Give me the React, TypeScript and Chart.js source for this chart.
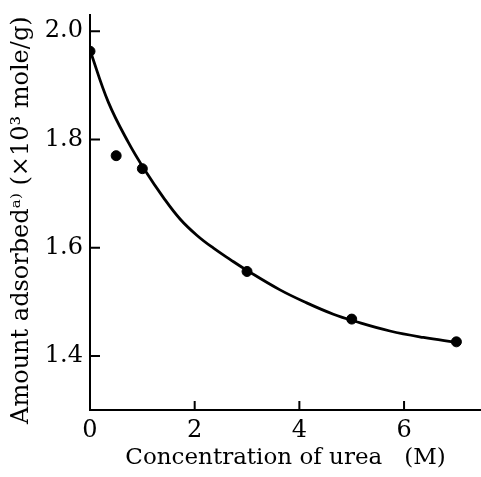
import React, { useEffect, useRef } from "react";
import { Chart, registerables } from "chart.js";

// Measured points: concentration of urea (M) vs amount adsorbed (×10^3 mole/g)
const POINT_X = [0, 0.5, 1.0, 3.0, 5.0, 7.0];
const POINT_Y = [1.963, 1.77, 1.746, 1.556, 1.468, 1.426];

// Fitted curve
const CURVE_X = [0, 0.35, 0.73, 1.05, 1.4, 1.72, 2.04, 2.36, 2.68, 3.0, 3.63, 4.14, 4.65, 5.06, 5.73, 6.37, 7.0];
const CURVE_Y = [1.965, 1.869, 1.795, 1.743, 1.693, 1.653, 1.623, 1.599, 1.578, 1.558, 1.522, 1.498, 1.477, 1.464, 1.446, 1.434, 1.425];

const X_TICKS = [0, 2, 4, 6];
const Y_TICKS = [1.4, 1.6, 1.8, 2.0];

const X_TITLE = "Concentration of urea   (M)";
const Y_TITLE = "Amount adsorbed\u1D43\u207E (\u00D710\u00B3 mole/g)  ";

const FONT = "'DejaVu Serif', 'Liberation Serif', serif";

const innerTicks = {
  id: "innerTicks",
  afterDraw(chart: any) {
    const ctx = chart.ctx;
    const area = chart.chartArea;
    const sx = chart.scales.x;
    const sy = chart.scales.y;
    ctx.save();
    ctx.strokeStyle = "#000";
    ctx.lineWidth = 2;
    ctx.beginPath();
    for (const v of Y_TICKS) {
      const y = sy.getPixelForValue(v);
      ctx.moveTo(area.left, y);
      ctx.lineTo(area.left + 10, y);
    }
    for (const v of X_TICKS) {
      const x = sx.getPixelForValue(v);
      ctx.moveTo(x, area.bottom);
      ctx.lineTo(x, area.bottom - 9);
    }
    ctx.stroke();
    ctx.restore();
  },
};

Chart.register(...registerables, innerTicks);

export default function App() {
  const ref = useRef<HTMLCanvasElement | null>(null);
  useEffect(() => {
    if (!ref.current) return;
    const chart = new Chart(ref.current, {
      type: "scatter",
      data: {
        datasets: [
          {
            data: CURVE_X.map((x, i) => ({ x, y: CURVE_Y[i] })),
            showLine: true,
            borderColor: "#000",
            borderWidth: 2.8,
            pointRadius: 0,
            tension: 0.4,
            fill: false,
          },
          {
            data: POINT_X.map((x, i) => ({ x, y: POINT_Y[i] })),
            showLine: false,
            backgroundColor: "#000",
            borderColor: "#000",
            pointRadius: 5,
          },
        ],
      },
      options: {
        responsive: false,
        animation: false,
        layout: { autoPadding: false, padding: { top: 15, right: 0, bottom: 0, left: 0 } },
        plugins: { legend: { display: false }, tooltip: { enabled: false } },
        scales: {
          x: {
            type: "linear",
            min: 0,
            max: 7.47,
            afterBuildTicks: (s: any) => {
              s.ticks = X_TICKS.map((v) => ({ value: v }));
            },
            afterFit: (s: any) => {
              s.height = 67;
              s.paddingLeft = 0;
              s.paddingRight = 0;
            },
            grid: { display: true, drawOnChartArea: false, drawTicks: false },
            border: { display: true, color: "#000", width: 2 },
            ticks: {
              color: "#000",
              padding: 6,
              font: { family: FONT, size: 24 },
              callback: (v: any) => String(v),
              maxRotation: 0,
            },
            title: {
              display: true,
              text: X_TITLE,
              color: "#000",
              font: { family: FONT, size: 23 },
              padding: { top: 0, bottom: 5 },
            },
          },
          y: {
            type: "linear",
            min: 1.3,
            max: 2.03,
            afterBuildTicks: (s: any) => {
              s.ticks = Y_TICKS.map((v) => ({ value: v }));
            },
            afterFit: (s: any) => {
              s.width = 90;
              s.paddingTop = 0;
              s.paddingBottom = 0;
            },
            grid: { display: true, drawOnChartArea: false, drawTicks: false },
            border: { display: true, color: "#000", width: 2 },
            ticks: {
              color: "#000",
              padding: 7,
              font: { family: FONT, size: 24 },
              callback: (v: any) => Number(v).toFixed(1),
            },
            title: {
              display: true,
              text: Y_TITLE,
              color: "#000",
              font: { family: FONT, size: 24 },
              padding: { top: 7, bottom: 0 },
            },
          },
        },
      },
    });
    return () => chart.destroy();
  }, []);
  return (
    <div style={{ position: "absolute", left: 0, top: 0, width: 481, height: 477, background: "#fff" }}>
      <canvas ref={ref} width={481} height={477} style={{ display: "block" }} />
    </div>
  );
}
